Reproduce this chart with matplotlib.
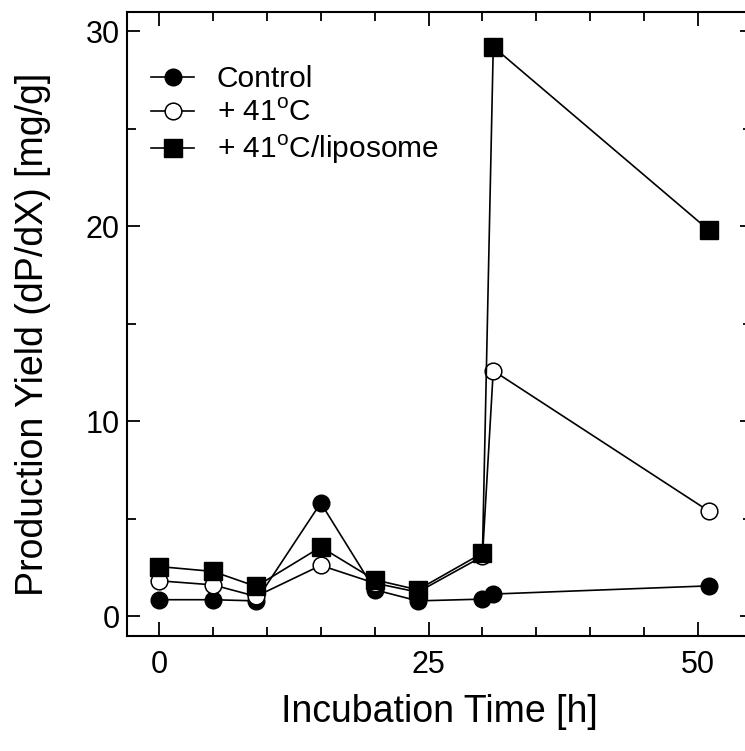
import numpy as np
import matplotlib
matplotlib.use('Agg')
import matplotlib.pyplot as plt
from matplotlib.ticker import MultipleLocator

plt.rcParams['font.family'] = ['Liberation Sans', 'DejaVu Sans']
plt.rcParams['mathtext.fontset'] = 'custom'
plt.rcParams['mathtext.rm'] = 'Liberation Sans'

# incubation time [h]
t = [0, 5, 9, 15, 20, 24, 30, 31, 51]

control = [0.86, 0.86, 0.80, 5.82, 1.37, 0.80, 0.89, 1.15, 1.57]
heat41 = [1.83, 1.62, 1.03, 2.62, 1.71, 1.25, 3.08, 12.6, 5.4]
heat41_lipo = [2.56, 2.31, 1.54, 3.56, 1.88, 1.37, 3.25, 29.2, 19.8]

labels = ['Control', '+ 41$^\\mathregular{o}$C', '+ 41$^\\mathregular{o}$C/liposome']

fig = plt.figure(figsize=(7.45, 7.51), dpi=100)
ax = fig.add_axes([126.7/745, 1 - 636/751, (752 - 126.7)/745, (636 - 11.7)/751])

ax.plot(t, control, '-o', color='black', lw=1.2, ms=12, mfc='black', mec='black', label=labels[0])
ax.plot(t, heat41, '-o', color='black', lw=1.2, ms=12, mfc='white', mec='black', mew=1.1, label=labels[1])
ax.plot(t, heat41_lipo, '-s', color='black', lw=1.2, ms=12.5, mfc='black', mec='black', label=labels[2])

ax.set_xlim(-3, 55)
ax.set_ylim(-1, 31)
ax.xaxis.set_major_locator(MultipleLocator(25))
ax.xaxis.set_minor_locator(MultipleLocator(5))
ax.yaxis.set_major_locator(MultipleLocator(10))
ax.yaxis.set_minor_locator(MultipleLocator(5))

ax.tick_params(which='both', direction='in', top=True, right=True, width=1.3, labelsize=22)
ax.tick_params(axis='x', which='major', length=10, pad=10)
ax.tick_params(axis='x', which='minor', length=6.5)
ax.tick_params(axis='y', which='major', length=9, pad=5)
ax.tick_params(axis='y', which='minor', length=6.5)
for s in ax.spines.values():
    s.set_linewidth(1.5)

ax.set_xlabel('Incubation Time [h]', fontsize=27, labelpad=10)
ax.set_ylabel('Production Yield (dP/dX) [mg/g]', fontsize=27, labelpad=25)
ax.yaxis.label.set_y(0.483)

ax.legend(loc='upper left', bbox_to_anchor=(0.039, 0.914), frameon=False, fontsize=21.5,
          handlelength=1.45, handletextpad=0.75, labelspacing=0.2, borderaxespad=0, borderpad=0)

fig.savefig('out.png', dpi=100)
